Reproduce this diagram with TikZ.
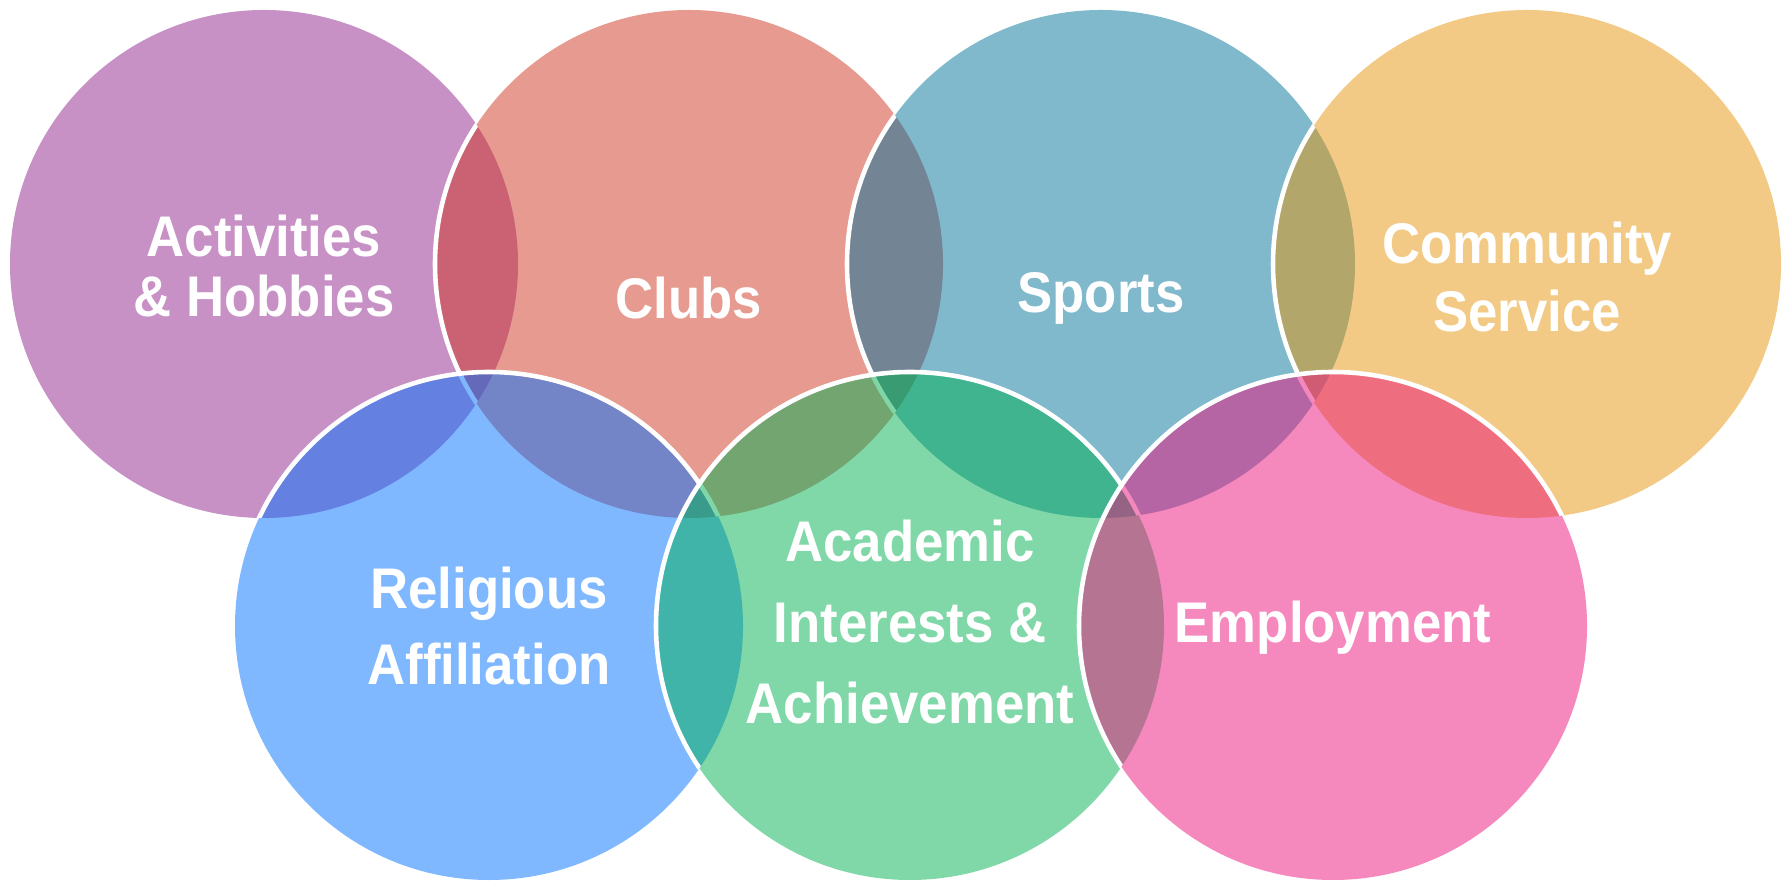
\documentclass[tikz,border=0pt]{standalone}
\usepackage{fontspec}
\newfontfamily\labfont{Liberation Sans}[FakeStretch=0.92]
\definecolor{cA}{RGB}{145,35,141}
\definecolor{cC}{RGB}{205,53,33}
\definecolor{cS}{RGB}{1,113,153}
\definecolor{cCo}{RGB}{231,149,11}
\definecolor{cR}{RGB}{1,113,255}
\definecolor{cAc}{RGB}{1,177,81}
\definecolor{cE}{RGB}{235,19,123}
\newcommand\labsize[1]{\labfont\bfseries\fontsize{16.3}{#1}\selectfont}
\tikzset{
  disc/.style={fill opacity=0.5},
  rim/.style={draw=white, line width=1.3pt},
  lab/.style={text=white, font=\labsize{19}, align=center, inner sep=0pt}
}
\def\R{254}
\begin{document}
\begin{tikzpicture}[x=0.01cm,y=0.01cm]
\useasboundingbox (0,0) rectangle (1789,882);
\coordinate (A) at (264,618);
\coordinate (C) at (689,618);
\coordinate (S) at (1101,618);
\coordinate (Co) at (1527,618);
\coordinate (Rl) at (489,256);
\coordinate (Ac) at (910,256);
\coordinate (E) at (1333,256);
% Activities
\fill[cA, disc] (A) circle (\R);
% Clubs
\fill[cC, disc] (C) circle (\R);
\begin{scope}\clip (A) circle (\R); \draw[rim] (C) circle (\R); \end{scope}
% Sports
\fill[cS, disc] (S) circle (\R);
\begin{scope}\clip (A) circle (\R) (C) circle (\R); \draw[rim] (S) circle (\R); \end{scope}
% Community
\fill[cCo, disc] (Co) circle (\R);
\begin{scope}\clip (A) circle (\R) (C) circle (\R) (S) circle (\R); \draw[rim] (Co) circle (\R); \end{scope}
% Religious
\fill[cR, disc] (Rl) circle (\R);
\begin{scope}\clip (A) circle (\R) (C) circle (\R) (S) circle (\R) (Co) circle (\R); \draw[rim] (Rl) circle (\R); \end{scope}
% Academic
\fill[cAc, disc] (Ac) circle (\R);
\begin{scope}\clip (A) circle (\R) (C) circle (\R) (S) circle (\R) (Co) circle (\R) (Rl) circle (\R); \draw[rim] (Ac) circle (\R); \end{scope}
% Employment
\fill[cE, disc] (E) circle (\R);
\begin{scope}\clip (A) circle (\R) (C) circle (\R) (S) circle (\R) (Co) circle (\R) (Rl) circle (\R) (Ac) circle (\R); \draw[rim] (E) circle (\R); \end{scope}
% labels
\node[lab, font=\labsize{17.1}] (tA) at (264,616) {Activities\\\& Hobbies};
\node[lab] (tC) at (689,584) {Clubs};
\node[lab] (tS) at (1101,584) {Sports};
\node[lab, font=\labsize{19.6}] (tCo) at (1527,605) {Community\\Service};
\node[lab, font=\labsize{21.6}] (tR) at (489,256) {Religious\\Affiliation};
\node[lab, font=\labsize{23}] (tAc) at (910,260) {Academic\\Interests \&\\Achievement};
\node[lab] (tE) at (1333,254) {Employment};
\end{tikzpicture}
\end{document}
